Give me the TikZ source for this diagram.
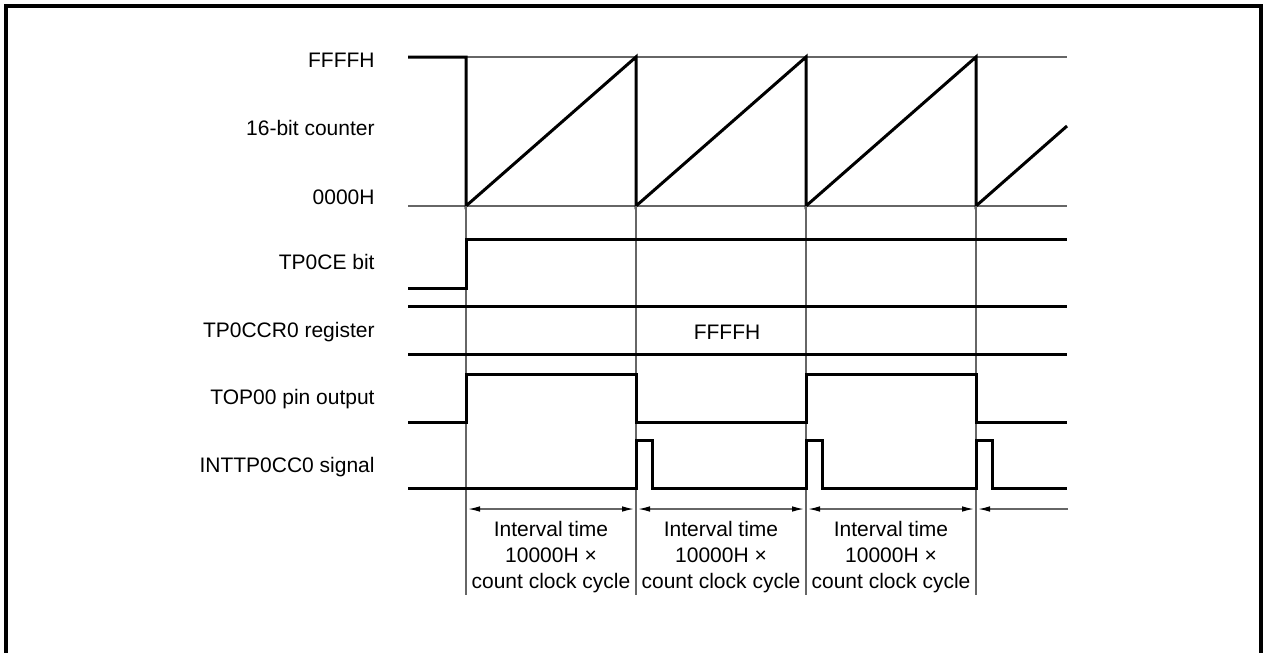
\documentclass[tikz,border=0pt]{standalone}
\usepackage{fontspec}
\setmainfont{Liberation Sans}
\usetikzlibrary{arrows.meta}

\begin{document}
\begin{tikzpicture}[
        x=0.5pt, y=-0.5pt,
        every node/.style={font=\fontsize{10.5}{12.8}\selectfont, inner sep=0pt},
        lbl/.style={anchor=east},
        frame/.style={draw, line width=2pt},
        sig/.style={draw, line width=1.5pt},
        guide/.style={draw, black!60, line width=0.7pt},
        tip/.tip={Latex[length=6pt,width=2.8pt,black]},
        span/.style={guide, tip-tip, shorten <=1pt, shorten >=1pt},
        note/.style={align=center},
    ]
    \useasboundingbox (0,0) rectangle (1264,653);
    \draw[frame] (6,660) -- (6,6) -- (1261,6) -- (1261,660);

    % labels on the left
    \node[lbl](lffff) at (375,60){FFFFH};
    \node[lbl](lcnt) at (375,128){16-bit counter};
    \node[lbl](l0000) at (375,197){0000H};
    \node[lbl](lce) at (375,262){TP0CE bit};
    \node[lbl](lccr) at (375,332){TP0CCR0 register};
    \node[lbl](ltop) at (375,399){TOP00 pin output};
    \node[lbl](lint) at (375,467){INTTP0CC0 signal};

    % timing points
    \foreach \i/\x in {1/466, 2/636, 3/806, 4/976}{
        \coordinate (t\i) at (\x,206);
        \coordinate (b\i) at (\x,595);
        \coordinate (a\i) at (\x,509);
    }
    \coordinate (aend) at (1068,509);

    % 16-bit counter
    \draw[guide] (466,57) -- (1067,57);
    \draw[guide] (408,206) -- (1067,206);
    \draw[sig] (408,57) -- (466,57) -- (t1) -- (636,57) -- (t2) -- (806,57) -- (t3)
        -- (976,57) -- (t4) -- (1067,126);

    % vertical guides
    \foreach \i in {1,...,4}{
        \draw[guide] (t\i) -- (b\i);
    }

    % TP0CE bit
    \draw[sig] (408,288) -- (466,288) -- (466,239) -- (1067,239);

    % TP0CCR0 register
    \draw[sig] (408,306) -- (1067,306);
    \draw[sig] (408,354) -- (1067,354);
    \node[](ccrval) at (727,332){FFFFH};

    % TOP00 pin output
    \draw[sig] (408,422) -- (466,422) -- (466,374) -- (636,374) -- (636,422) -- (806,422)
        -- (806,374) -- (976,374) -- (976,422) -- (1067,422);

    % INTTP0CC0 signal
    \draw[sig] (408,488) -- (636,488) -- (636,440) -- (652,440) -- (652,488) -- (806,488)
        -- (806,440) -- (822,440) -- (822,488) -- (976,488) -- (976,440) -- (992,440)
        -- (992,488) -- (1067,488);

    % intervals
    \draw[span] (a1) -- (a2);
    \draw[span] (a2) -- (a3);
    \draw[span] (a3) -- (a4);
    \draw[guide, -tip, shorten >=1pt] (aend) -- (a4);
    \node[note](iv1) at (551,557){Interval time\\10000H ×\\count clock cycle};
    \node[note](iv2) at (721,557){Interval time\\10000H ×\\count clock cycle};
    \node[note](iv3) at (891,557){Interval time\\10000H ×\\count clock cycle};
\end{tikzpicture}
\end{document}
